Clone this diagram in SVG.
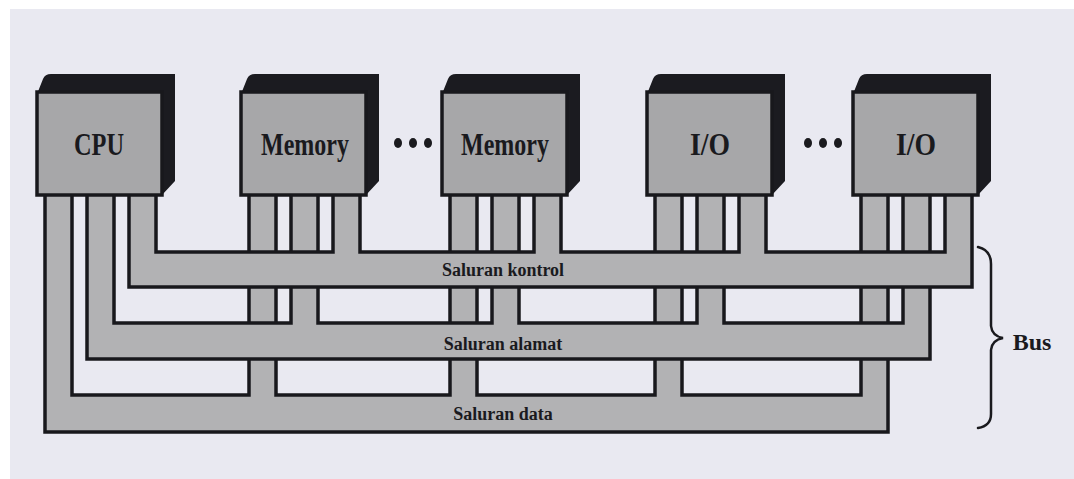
<svg xmlns="http://www.w3.org/2000/svg" width="1074" height="479" viewBox="0 0 1074 479">
<style>
.bus{fill:#b2b2b4;stroke:#18181c;stroke-width:3.5;stroke-linejoin:miter}
.top{fill:#1b1b20}
.face{fill:#a7a7a9;stroke:#18181c;stroke-width:3.5}
.lbl{font-family:"Liberation Serif","Times New Roman",serif;font-weight:bold;fill:#1a1a1e;text-anchor:middle}
.big{font-size:31px}
.small{font-size:18px}
.dot{fill:#1a1a1e}
.brace{fill:none;stroke:#1a1a1e;stroke-width:2.5;stroke-linecap:round}
</style>
<rect x="0" y="0" width="1074" height="479" fill="#ffffff"/>
<rect x="10" y="9" width="1064" height="470" fill="#e9e9f1"/>
<g id="connectors">
<path id="bus-data" class="bus" d="M45,193 L45,432 L888,432 L888,193 L861,193 L861,395 L682,395 L682,193 L655,193 L655,395 L477,395 L477,193 L450,193 L450,395 L276,395 L276,193 L249,193 L249,395 L72,395 L72,193 Z"/>
<path id="bus-address" class="bus" d="M87,193 L87,359 L930,359 L930,193 L903,193 L903,323 L724,323 L724,193 L697,193 L697,323 L519,323 L519,193 L492,193 L492,323 L318,323 L318,193 L291,193 L291,323 L114,323 L114,193 Z"/>
<path id="bus-control" class="bus" d="M129,193 L129,287 L972,287 L972,193 L945,193 L945,252 L766,252 L766,193 L739,193 L739,252 L561,252 L561,193 L534,193 L534,252 L360,252 L360,193 L333,193 L333,252 L156,252 L156,193 Z"/>
<text class="lbl small" x="503" y="276">Saluran kontrol</text>
<text class="lbl small" x="503" y="350">Saluran alamat</text>
<text class="lbl small" x="503" y="420">Saluran data</text>
</g>
<g id="cpu">
<path class="top" d="M37,94 L43,79 Q45,74 51,74 L175,74 L175,181 L162,195 L162,94 Z"/>
<rect class="face" x="37" y="92" width="125" height="103"/>
<text class="lbl big" x="99" y="155" textLength="50" lengthAdjust="spacingAndGlyphs">CPU</text>
</g>
<g id="memory1">
<path class="top" d="M241,94 L247,79 Q249,74 255,74 L379,74 L379,181 L366,195 L366,94 Z"/>
<rect class="face" x="241" y="92" width="125" height="103"/>
<text class="lbl big" x="305" y="155" textLength="88" lengthAdjust="spacingAndGlyphs">Memory</text>
</g>
<g id="memory2">
<path class="top" d="M442,94 L448,79 Q450,74 456,74 L580,74 L580,181 L567,195 L567,94 Z"/>
<rect class="face" x="442" y="92" width="125" height="103"/>
<text class="lbl big" x="505" y="155" textLength="88" lengthAdjust="spacingAndGlyphs">Memory</text>
</g>
<g id="io1">
<path class="top" d="M647,94 L653,79 Q655,74 661,74 L785,74 L785,181 L772,195 L772,94 Z"/>
<rect class="face" x="647" y="92" width="125" height="103"/>
<text class="lbl big" x="710" y="155" textLength="40" lengthAdjust="spacingAndGlyphs">I/O</text>
</g>
<g id="io2">
<path class="top" d="M853,94 L859,79 Q861,74 867,74 L991,74 L991,181 L978,195 L978,94 Z"/>
<rect class="face" x="853" y="92" width="125" height="103"/>
<text class="lbl big" x="916" y="155" textLength="40" lengthAdjust="spacingAndGlyphs">I/O</text>
</g>
<g id="dots1">
<ellipse class="dot" cx="398" cy="143" rx="4" ry="5"/>
<ellipse class="dot" cx="413" cy="143" rx="4" ry="5"/>
<ellipse class="dot" cx="428" cy="143" rx="4" ry="5"/>
</g>
<g id="dots2">
<ellipse class="dot" cx="808" cy="143" rx="4" ry="5"/>
<ellipse class="dot" cx="823" cy="143" rx="4" ry="5"/>
<ellipse class="dot" cx="838" cy="143" rx="4" ry="5"/>
</g>
<g id="bus-brace">
<path class="brace" d="M978,247 Q991,250 991,264 L991,326 Q992,336 1003,338 Q992,340 991,350 L991,414 Q991,426 978,428"/>
<text class="lbl" style="font-size:24px" x="1032" y="350">Bus</text>
</g>
</svg>
